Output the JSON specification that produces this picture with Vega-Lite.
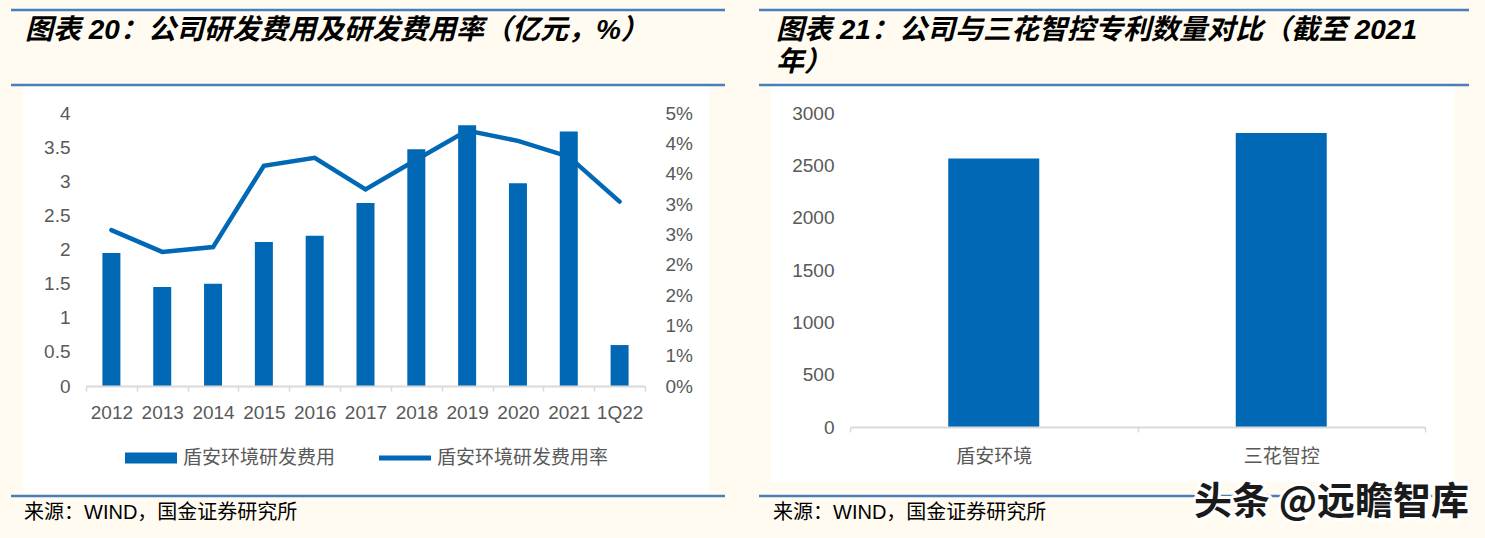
{
  "$schema": "https://vega.github.io/schema/vega-lite/v6.json",
  "autosize": {"type": "pad"},
  "padding": 0,
  "background": "#FFFBF0",
  "spacing": 205,
  "bounds": "flush",
  "datasets": {
    "rd": [
      {"period": "2012", "expense": 1.95, "rate": 2.57},
      {"period": "2013", "expense": 1.45, "rate": 2.21},
      {"period": "2014", "expense": 1.50, "rate": 2.29},
      {"period": "2015", "expense": 2.11, "rate": 3.63},
      {"period": "2016", "expense": 2.20, "rate": 3.76},
      {"period": "2017", "expense": 2.68, "rate": 3.24},
      {"period": "2018", "expense": 3.47, "rate": 3.73},
      {"period": "2019", "expense": 3.82, "rate": 4.21},
      {"period": "2020", "expense": 2.97, "rate": 4.04},
      {"period": "2021", "expense": 3.73, "rate": 3.78},
      {"period": "1Q22", "expense": 0.60, "rate": 3.04}
    ],
    "patent": [
      {"company": "盾安环境", "count": 2565},
      {"company": "三花智控", "count": 2810}
    ],
    "one": [{}]
  },
  "hconcat": [
    {
      "width": 559,
      "height": 273,
      "layer": [
        {
          "data": {"name": "one"},
          "layer": [
            {
              "mark": {"type": "rect", "fill": "#FFFBF0"},
              "encoding": {
                "x": {"datum": -0.153846, "type": "quantitative", "scale": {"domain": [0, 1], "nice": false, "zero": false}, "axis": null},
                "x2": {"datum": 2.502683},
                "y": {"datum": 1.413919, "type": "quantitative", "scale": {"domain": [0, 1], "nice": false, "zero": false}, "axis": null},
                "y2": {"datum": -0.556777}
              }
            },
            {
              "mark": {"type": "rect", "fill": "#FFFFFF"},
              "encoding": {
                "x": {"datum": -0.112701, "type": "quantitative"},
                "x2": {"datum": 1.114490},
                "y": {"datum": 1.098901, "type": "quantitative"},
                "y2": {"datum": -0.388278}
              }
            },
            {
              "mark": {"type": "rule", "stroke": "#4A7EBB", "strokeWidth": 2.5},
              "encoding": {
                "x": {"datum": -0.134168, "type": "quantitative"},
                "x2": {"datum": 1.143113},
                "y": {"datum": 1.377289, "type": "quantitative"}
              }
            },
            {
              "mark": {"type": "rule", "stroke": "#4A7EBB", "strokeWidth": 2.5},
              "encoding": {
                "x": {"datum": -0.134168, "type": "quantitative"},
                "x2": {"datum": 1.143113},
                "y": {"datum": 1.102564, "type": "quantitative"}
              }
            },
            {
              "mark": {"type": "rule", "stroke": "#4A7EBB", "strokeWidth": 2.5},
              "encoding": {
                "x": {"datum": -0.134168, "type": "quantitative"},
                "x2": {"datum": 1.143113},
                "y": {"datum": -0.402930, "type": "quantitative"}
              }
            },
            {
              "mark": {"type": "text", "align": "left", "baseline": "middle", "font": "Liberation Sans, Noto Sans CJK SC", "fontSize": 28, "fontWeight": "bold", "fontStyle": "italic", "color": "#000000"},
              "encoding": {
                "x": {"datum": -0.109123, "type": "quantitative"},
                "y": {"datum": 1.300366, "type": "quantitative"},
                "text": {"value": "图表 20：公司研发费用及研发费用率（亿元，%）"}
              }
            },
            {
              "mark": {"type": "text", "align": "left", "baseline": "middle", "font": "Liberation Sans, Noto Sans CJK SC", "fontSize": 20, "color": "#000000"},
              "encoding": {
                "x": {"datum": -0.110912, "type": "quantitative"},
                "y": {"datum": -0.465201, "type": "quantitative"},
                "text": {"value": "来源：WIND，国金证券研究所"}
              }
            }
          ]
        },
        {
          "data": {"name": "rd"},
          "encoding": {
            "x": {
              "field": "period",
              "type": "ordinal",
              "sort": null,
              "scale": {"paddingInner": 0, "paddingOuter": 0},
              "axis": {
                "orient": "bottom",
                "title": null,
                "zindex": 1,
                "labelAngle": 0,
                "tickBand": "extent",
                "ticks": true,
                "tickSize": 5,
                "tickColor": "#D9D9D9",
                "tickWidth": 1.5,
                "domainColor": "#D9D9D9",
                "domainWidth": 2,
                "labelPadding": 12
              }
            }
          },
          "layer": [
            {
              "mark": {"type": "bar", "width": 18},
              "encoding": {
                "y": {
                  "field": "expense",
                  "type": "quantitative",
                  "scale": {"domain": [0, 4], "nice": false},
                  "axis": {"orient": "left", "zindex": 1, "title": null, "values": [0, 0.5, 1, 1.5, 2, 2.5, 3, 3.5, 4], "labelExpr": "'' + datum.value", "ticks": false, "tickSize": 0, "domain": false, "labelPadding": 16}
                },
                "color": {
                  "datum": "盾安环境研发费用",
                  "type": "nominal",
                  "scale": {"domain": ["盾安环境研发费用", "盾安环境研发费用率"], "range": ["#0068B4", "#0068B4"]},
                  "legend": {
                    "orient": "none",
                    "legendX": 39,
                    "legendY": 319,
                    "direction": "horizontal",
                    "title": null,
                    "padding": 0,
                    "symbolSize": 2704,
                    "labelFontSize": 19,
                    "labelColor": "#595959",
                    "labelFont": "Noto Sans CJK SC",
                    "labelLimit": 0,
                    "labelOffset": 6,
                    "columnPadding": 43,
                    "zindex": 1,
                    "encode": {
                      "symbols": {
                        "update": {
                          "shape": {"signal": "datum.value === '盾安环境研发费用' ? 'M-1,-0.21H1V0.21H-1Z' : 'M-1,-0.095H1V0.095H-1Z'"},
                          "fill": {"value": "#0068B4"},
                          "stroke": {"value": "#0068B4"},
                          "strokeWidth": {"value": 0},
                          "opacity": {"value": 1}
                        }
                      }
                    }
                  }
                }
              }
            },
            {
              "mark": {"type": "line", "strokeWidth": 4.5, "strokeCap": "round"},
              "encoding": {
                "y": {
                  "field": "rate",
                  "type": "quantitative",
                  "scale": {"domain": [0, 4.5], "nice": false},
                  "axis": {"orient": "right", "zindex": 1, "title": null, "values": [0, 0.5, 1, 1.5, 2, 2.5, 3, 3.5, 4, 4.5], "labelExpr": "ceil(datum.value) + '%'", "ticks": false, "tickSize": 0, "domain": false, "labelPadding": 20}
                },
                "color": {"datum": "盾安环境研发费用率", "type": "nominal"}
              }
            }
          ],
          "resolve": {"scale": {"y": "independent"}}
        }
      ],
      "resolve": {"scale": {"x": "independent", "y": "independent"}}
    },
    {
      "width": 575,
      "height": 314,
      "layer": [
        {
          "data": {"name": "one"},
          "layer": [
            {
              "mark": {"type": "rect", "fill": "#FFFFFF"},
              "encoding": {
                "x": {"datum": -0.137391, "type": "quantitative", "scale": {"domain": [0, 1], "nice": false, "zero": false}, "axis": null},
                "x2": {"datum": 1.050435},
                "y": {"datum": 1.085987, "type": "quantitative", "scale": {"domain": [0, 1], "nice": false, "zero": false}, "axis": null},
                "y2": {"datum": -0.175159}
              }
            },
            {
              "mark": {"type": "rule", "stroke": "#4A7EBB", "strokeWidth": 2.5},
              "encoding": {
                "x": {"datum": -0.158261, "type": "quantitative"},
                "x2": {"datum": 1.076522},
                "y": {"datum": 1.328025, "type": "quantitative"}
              }
            },
            {
              "mark": {"type": "rule", "stroke": "#4A7EBB", "strokeWidth": 2.5},
              "encoding": {
                "x": {"datum": -0.158261, "type": "quantitative"},
                "x2": {"datum": 1.076522},
                "y": {"datum": 1.089172, "type": "quantitative"}
              }
            },
            {
              "mark": {"type": "rule", "stroke": "#4A7EBB", "strokeWidth": 2.5},
              "encoding": {
                "x": {"datum": -0.158261, "type": "quantitative"},
                "x2": {"datum": 1.076522},
                "y": {"datum": -0.219745, "type": "quantitative"}
              }
            },
            {
              "mark": {"type": "text", "align": "left", "baseline": "middle", "font": "Liberation Sans, Noto Sans CJK SC", "fontSize": 28, "fontWeight": "bold", "fontStyle": "italic", "color": "#000000"},
              "encoding": {
                "x": {"datum": -0.128696, "type": "quantitative"},
                "y": {"datum": 1.261146, "type": "quantitative"},
                "text": {"value": "图表 21：公司与三花智控专利数量对比（截至 2021"}
              }
            },
            {
              "mark": {"type": "text", "align": "left", "baseline": "middle", "font": "Liberation Sans, Noto Sans CJK SC", "fontSize": 28, "fontWeight": "bold", "fontStyle": "italic", "color": "#000000"},
              "encoding": {
                "x": {"datum": -0.128696, "type": "quantitative"},
                "y": {"datum": 1.159236, "type": "quantitative"},
                "text": {"value": "年）"}
              }
            },
            {
              "mark": {"type": "text", "align": "left", "baseline": "middle", "font": "Liberation Sans, Noto Sans CJK SC", "fontSize": 20, "color": "#000000"},
              "encoding": {
                "x": {"datum": -0.133913, "type": "quantitative"},
                "y": {"datum": -0.273885, "type": "quantitative"},
                "text": {"value": "来源：WIND，国金证券研究所"}
              }
            },
            {
              "mark": {"type": "text", "align": "right", "baseline": "middle", "font": "Noto Sans CJK SC", "fontSize": 38, "fontWeight": "bold", "fill": "#FFFFFF", "stroke": "#FFFFFF", "strokeWidth": 6, "strokeJoin": "round"},
              "encoding": {
                "x": {"datum": 1.076522, "type": "quantitative"},
                "y": {"datum": -0.242038, "type": "quantitative"},
                "text": {"value": "头条 @远瞻智库"}
              }
            },
            {
              "mark": {"type": "text", "align": "right", "baseline": "middle", "font": "Noto Sans CJK SC", "fontSize": 38, "fontWeight": "bold", "fill": "#1A1A1A"},
              "encoding": {
                "x": {"datum": 1.076522, "type": "quantitative"},
                "y": {"datum": -0.242038, "type": "quantitative"},
                "text": {"value": "头条 @远瞻智库"}
              }
            }
          ]
        },
        {
          "data": {"name": "patent"},
          "mark": {"type": "bar", "width": 91, "color": "#0068B4"},
          "encoding": {
            "x": {
              "field": "company",
              "type": "nominal",
              "sort": null,
              "scale": {"paddingInner": 0, "paddingOuter": 0},
              "axis": {
                "orient": "bottom",
                "title": null,
                "zindex": 1,
                "labelAngle": 0,
                "tickBand": "extent",
                "ticks": true,
                "tickSize": 5,
                "tickColor": "#D9D9D9",
                "tickWidth": 1.5,
                "domainColor": "#D9D9D9",
                "domainWidth": 2,
                "labelPadding": 15
              }
            },
            "y": {
              "field": "count",
              "type": "quantitative",
              "scale": {"domain": [0, 3000], "nice": false},
              "axis": {"orient": "left", "zindex": 1, "title": null, "values": [0, 500, 1000, 1500, 2000, 2500, 3000], "format": "d", "ticks": false, "tickSize": 0, "domain": false, "labelPadding": 16}
            }
          }
        }
      ],
      "resolve": {"scale": {"x": "independent", "y": "independent"}}
    }
  ],
  "config": {
    "view": {"stroke": null},
    "axis": {
      "grid": false,
      "labelFont": "Liberation Sans, Noto Sans CJK SC",
      "labelFontSize": 19,
      "labelColor": "#595959"
    },
    "legend": {"zindex": 1}
  }
}
